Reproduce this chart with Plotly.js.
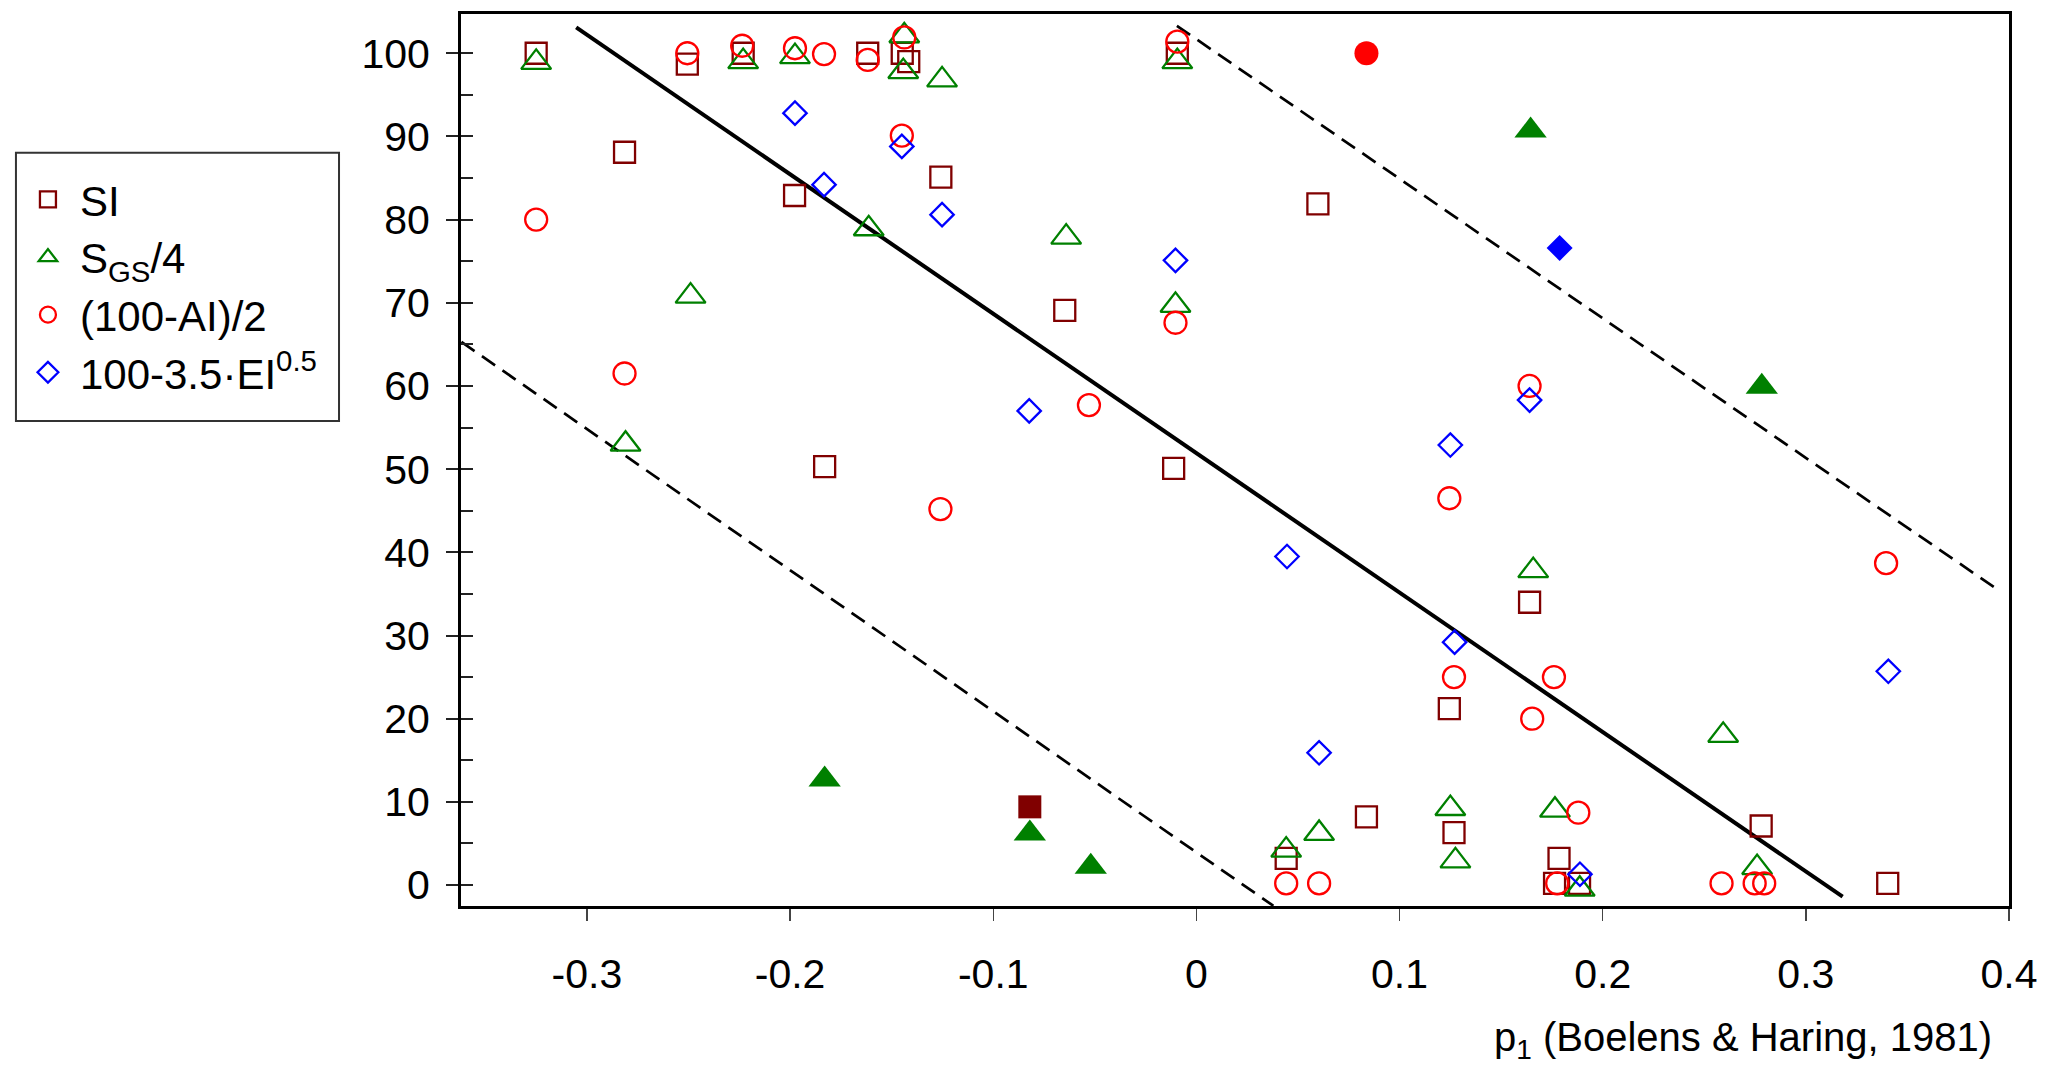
<!DOCTYPE html>
<html>
<head>
<meta charset="utf-8">
<script src="https://cdn.plot.ly/plotly-3.0.1.min.js"></script>
<style>html,body{margin:0;padding:0;background:#fff;}#chart{width:2049px;height:1070px;}</style>
</head>
<body>
<div id="chart"></div>
<script>
// ---- Data ----
var seriesNames = ["SI", "S<sub>GS</sub>/4", "(100-AI)/2", "100-3.5\u00b7EI<sup>0.5</sup>"];

var siX = [-0.325, -0.2815, -0.2506, -0.2231, -0.1978, -0.183, -0.1618, -0.1448, -0.1416, -0.1258, -0.0648, -0.0094, -0.0112, 0.0598, 0.0442, 0.0837, 0.1245, 0.1268, 0.164, 0.1785, 0.1763, 0.1886, 0.278, 0.3403];
var siY = [100, 88.1, 98.7, 100, 82.9, 50.3, 100, 100, 99.0, 85.1, 69.1, 100, 50.1, 81.9, 3.2, 8.2, 21.2, 6.3, 34.0, 3.2, 0.2, 0.2, 7.1, 0.2];

var sgsX = [-0.325, -0.281, -0.249, -0.2231, -0.1976, -0.1613, -0.1438, -0.1443, -0.1252, -0.0641, -0.0094, -0.0103, 0.0442, 0.0604, 0.125, 0.1275, 0.1658, 0.1765, 0.1887, 0.2593, 0.276];
var sgsY = [98.9, 53.0, 70.8, 99.0, 99.6, 78.9, 102.1, 97.8, 96.8, 77.9, 99.0, 69.7, 4.2, 6.2, 9.2, 2.9, 37.8, 9.0, -0.5, 18.0, 2.1];

var aiX = [-0.325, -0.2815, -0.2506, -0.2236, -0.1976, -0.1833, -0.1618, -0.1438, -0.145, -0.126, -0.0529, -0.0094, -0.0103, 0.0442, 0.0604, 0.1245, 0.1268, 0.164, 0.1653, 0.176, 0.1776, 0.188, 0.2585, 0.2748, 0.2795, 0.3395];
var aiY = [80.0, 61.5, 100, 100.9, 100.6, 99.9, 99.2, 101.9, 90.1, 45.2, 57.7, 101.4, 67.6, 0.2, 0.2, 46.5, 25.0, 60.0, 20.0, 25.0, 0.2, 8.7, 0.2, 0.2, 0.2, 38.7];

var eiX = [-0.1976, -0.1833, -0.145, -0.1252, -0.0823, -0.0103, 0.0446, 0.0604, 0.125, 0.1271, 0.164, 0.1888, 0.3406];
var eiY = [92.8, 84.2, 88.8, 80.6, 57.0, 75.1, 39.5, 15.9, 52.9, 29.2, 58.3, 1.3, 25.7];

// filled (highlighted) points
var siFillX = [-0.082];
var siFillY = [9.4];
var sgsFillX = [-0.183, -0.082, -0.052, 0.1645, 0.2783];
var sgsFillY = [12.7, 6.2, 2.2, 90.7, 59.9];
var aiFillX = [0.0837];
var aiFillY = [100];
var eiFillX = [0.1788];
var eiFillY = [76.6];

// reference lines (end points)
var midLineX = [-0.3053, 0.3181];
var midLineY = [103.1, -1.4];
var upperLineX = [-0.0096, 0.3933];
var upperLineY = [103.3, 35.7];
var lowerLineX = [-0.3618, 0.0379];
var lowerLineY = [65.3, -2.5];

var xTickVals = [-0.3, -0.2, -0.1, 0, 0.1, 0.2, 0.3, 0.4];
var xTickText = ["-0.3", "-0.2", "-0.1", "0", "0.1", "0.2", "0.3", "0.4"];
var yTickVals = [0, 10, 20, 30, 40, 50, 60, 70, 80, 90, 100];
var yTickText = ["0", "10", "20", "30", "40", "50", "60", "70", "80", "90", "100"];
var xTitle = "p<sub>1</sub> (Boelens & Haring, 1981)";

// ---- Styles ----
var cSI = "#800000", cSGS = "#008000", cAI = "#ff0000", cEI = "#0000ff";
var FONT = "'Liberation Sans', Arial, Helvetica, sans-serif";

function openTrace(x, y, name, sym, col, size) {
  return {x: x, y: y, name: name, type: "scatter", mode: "markers",
    marker: {symbol: sym, color: col, size: size, line: {color: col, width: 2.3}}};
}
function fillTrace(x, y, sym, col, size) {
  return {x: x, y: y, type: "scatter", mode: "markers", showlegend: false,
    marker: {symbol: sym, color: col, size: size, line: {width: 0}}};
}
function lineTrace(x, y, dash, w) {
  return {x: x, y: y, type: "scatter", mode: "lines", showlegend: false, hoverinfo: "skip",
    line: {color: "#000", width: w, dash: dash}};
}

var data = [
  lineTrace(midLineX, midLineY, "solid", 4),
  lineTrace(upperLineX, upperLineY, "16px,9px", 2.7),
  lineTrace(lowerLineX, lowerLineY, "16px,9px", 2.7),
  openTrace(siX, siY, seriesNames[0], "square-open", cSI, 21),
  openTrace(sgsX, sgsY, seriesNames[1], "triangle-up-open", cSGS, 26),
  openTrace(aiX, aiY, seriesNames[2], "circle-open", cAI, 22),
  openTrace(eiX, eiY, seriesNames[3], "diamond-open", cEI, 18),
  fillTrace(siFillX, siFillY, "square", cSI, 23),
  fillTrace(sgsFillX, sgsFillY, "triangle-up", cSGS, 28),
  fillTrace(aiFillX, aiFillY, "circle", cAI, 24),
  fillTrace(eiFillX, eiFillY, "diamond", cEI, 20)
];

var layout = {
  width: 2049, height: 1070,
  paper_bgcolor: "#fff", plot_bgcolor: "#fff",
  font: {family: FONT, size: 41, color: "#000"},
  margin: {l: 461, r: 40, t: 14, b: 164, pad: 0},
  showlegend: true,
  legend: {
    x: -0.2875, y: 0.830, xanchor: "left", yanchor: "top",
    borderwidth: 0, bgcolor: "rgba(0,0,0,0)",
    font: {family: FONT, size: 42, color: "#000"},
    itemsizing: "trace", itemwidth: 54, tracegroupgap: 0
  },
  shapes: [{
    type: "rect", xref: "paper", yref: "paper",
    x0: -0.2875, x1: -0.0788, y0: 0.5438, y1: 0.8445,
    line: {color: "#333", width: 2}, fillcolor: "rgba(0,0,0,0)", layer: "below"
  }],
  xaxis: {
    range: [-0.362, 0.4], zeroline: false, showgrid: false,
    showline: true, linecolor: "#000", linewidth: 3, mirror: true,
    tickmode: "array", tickvals: xTickVals, ticktext: xTickText,
    ticks: "outside", ticklen: 12, tickwidth: 1.5, tickcolor: "#444",
    ticklabelstandoff: 18,
    tickfont: {family: FONT, size: 41, color: "#000"}
  },
  yaxis: {
    range: [-2.52, 104.72], zeroline: false, showgrid: false,
    showline: true, linecolor: "#000", linewidth: 3, mirror: true,
    tickmode: "array", tickvals: yTickVals, ticktext: yTickText,
    ticks: "outside", ticklen: 12, tickwidth: 2, tickcolor: "#222",
    ticklabelstandoff: 8,
    tickfont: {family: FONT, size: 41, color: "#000"},
    minor: {ticks: "inside", dtick: 5, tick0: 0, ticklen: 12, tickwidth: 2, tickcolor: "#222", showgrid: false}
  },
  annotations: [{
    text: xTitle, xref: "paper", yref: "paper", x: 0.99, y: -0.150,
    xanchor: "right", yanchor: "middle", showarrow: false,
    font: {family: FONT, size: 40, color: "#000"}
  }]
};

Plotly.newPlot("chart", data, layout, {displayModeBar: false, staticPlot: true});
</script>
</body>
</html>
